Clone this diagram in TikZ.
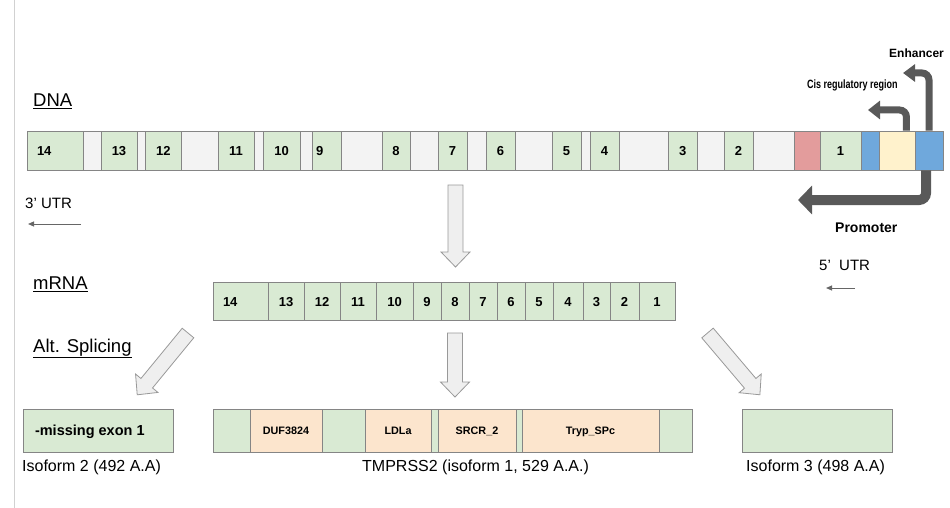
\documentclass[tikz,border=0pt]{standalone}
\usepackage{fontspec}
\setmainfont{Liberation Sans}
\usetikzlibrary{arrows.meta}
\definecolor{exonc}{HTML}{D9EAD3}
\definecolor{intronc}{HTML}{F3F3F3}
\definecolor{bordc}{HTML}{858585}
\definecolor{redc}{HTML}{E39C9C}
\definecolor{bluec}{HTML}{6FA8DC}
\definecolor{yelc}{HTML}{FFF2CC}
\definecolor{orc}{HTML}{FCE5CD}
\definecolor{arrfill}{HTML}{EFEFEF}
\definecolor{arrbord}{HTML}{999999}
\definecolor{darkc}{HTML}{595959}
\definecolor{thinc}{HTML}{666666}
\newcommand\exf{\fontsize{13}{15}\selectfont\bfseries}
\newcommand\domf{\fontsize{10.8}{12}\selectfont\bfseries}
\newcommand\headf{\fontsize{18.5}{21}\selectfont}
\newcommand\capf{\fontsize{15}{17}\selectfont}
\newcommand\capbf{\fontsize{16}{18}\selectfont}
\newcommand\regf{\fontsize{12}{14}\selectfont\bfseries}
\newcommand\seg[7]{\node[#6, minimum width={(#3)-(#2)}, minimum height={(#5)-(#4)}] (#1) at ({((#2)+(#3))/2},{((#4)+(#5))/2}) {#7};}
\newcommand\fatarrow[4]{\draw[bigarrow, shift={(#1,#2)}, rotate=#3] (0,-7.5) -- ({#4-15},-7.5) -- ({#4-15},-14.5) -- (#4,0) -- ({#4-15},14.5) -- ({#4-15},7.5) -- (0,7.5) -- cycle;}
\begin{document}
\begin{tikzpicture}[x=1pt,y=-1pt,
  box/.style={draw=bordc, line width=0.9pt, inner sep=0pt, font=\exf, text height=9.3pt, text depth=0pt},
  exon/.style={box, fill=exonc},
  intron/.style={box, fill=intronc},
  redbox/.style={box, fill=redc},
  bluebox/.style={box, fill=bluec},
  yelbox/.style={box, fill=yelc},
  dom/.style={box, fill=orc, font=\domf, text height=7.8pt, text depth=0pt},
  bigarrow/.style={draw=arrbord, fill=arrfill, line width=0.8pt, line join=miter},
  regarrow/.style={draw=darkc, rounded corners=7pt},
  thinarrow/.style={draw=thinc, line width=1pt, -{Triangle[length=6pt,width=5pt]}},
  lbl/.style={inner sep=0pt, anchor=base west}]
\useasboundingbox (0,0) rectangle (950,508);
\draw[color=black!18, line width=1.2pt] (14.5,0) -- (14.5,508);
% headings
\node[lbl, font=\headf] (hdna) at (33,107) {\underline{DNA}};
\node[lbl, font=\headf] (hmrna) at (33,289.5) {\underline{mRNA}};
\node[lbl, font=\headf] (halt) at (33,352) {\underline{Alt. Splicing}};
% DNA bar
\seg{d14}{27}{83}{131}{170}{exon}{\makebox[36pt][l]{14}}
\seg{i13}{83}{101}{131}{170}{intron}{}
\seg{d13}{101}{137}{131}{170}{exon}{13}
\seg{i12}{137}{145}{131}{170}{intron}{}
\seg{d12}{145}{181.5}{131}{170}{exon}{12}
\seg{i11}{181.5}{218}{131}{170}{intron}{}
\seg{d11}{218}{254}{131}{170}{exon}{11}
\seg{i10}{254}{263}{131}{170}{intron}{}
\seg{d10}{263}{300}{131}{170}{exon}{10}
\seg{i9}{300}{312}{131}{170}{intron}{}
\seg{d9}{312}{341}{131}{170}{exon}{\makebox[21pt][l]{9}}
\seg{i8}{341}{382}{131}{170}{intron}{}
\seg{d8}{382}{410}{131}{170}{exon}{8}
\seg{i7}{410}{438}{131}{170}{intron}{}
\seg{d7}{438}{467}{131}{170}{exon}{7}
\seg{i6}{467}{486}{131}{170}{intron}{}
\seg{d6}{486}{515}{131}{170}{exon}{6}
\seg{i5}{515}{552}{131}{170}{intron}{}
\seg{d5}{552}{581}{131}{170}{exon}{5}
\seg{i4}{581}{590}{131}{170}{intron}{}
\seg{d4}{590}{619}{131}{170}{exon}{4}
\seg{i3}{619}{668.5}{131}{170}{intron}{}
\seg{d3}{668.5}{697}{131}{170}{exon}{3}
\seg{i2}{697}{724}{131}{170}{intron}{}
\seg{d2}{724}{753}{131}{170}{exon}{2}
\seg{i1}{753}{794.5}{131}{170}{intron}{}
\seg{rd}{794.5}{820}{131}{170}{redbox}{}
\seg{d1}{820}{861}{131}{170}{exon}{1}
\seg{bl1}{861}{879}{131}{170}{bluebox}{}
\seg{yl}{879}{915}{131}{170}{yelbox}{}
\seg{bl2}{915}{943}{131}{170}{bluebox}{}
% regulatory arrows
\coordinate (cisS) at ([xshift=-9pt]yl.north east);
\coordinate (cisE) at (868,110);
\coordinate (enhE) at (903,73);
\coordinate (proE) at (798,200);
\draw[regarrow, line width=7pt, -{Triangle[length=12pt,width=18pt]}] (cisS) |- (cisE);
\draw[regarrow, line width=7pt, -{Triangle[length=12pt,width=17pt]}] (bl2.north) |- (enhE);
\draw[regarrow, line width=10pt, -{Triangle[length=14pt,width=28pt]}] ([xshift=-3pt]bl2.south) |- (proE);
\node[lbl, font=\regf] (tenh) at (889,58) {Enhancer};
\node[lbl, font=\regf] (tcis) at (807,89) {\scalebox{0.75}[1]{Cis regulatory region}};
\node[lbl, font=\regf] (tpro) at (835,232) {\fontsize{14}{16}\selectfont Promoter};
% UTR labels
\node[lbl, font=\capf] (u3) at (25,208) {3' UTR};
\coordinate (u3a) at (81,224);
\coordinate (u3b) at (28,224);
\draw[thinarrow] (u3a) -- (u3b);
\node[lbl, font=\capf] (u5) at (819,270.5) {5'\ \ UTR};
\coordinate (u5a) at (855,288);
\coordinate (u5b) at (826,288);
\draw[thinarrow] (u5a) -- (u5b);
% mRNA bar
\seg{m14}{213}{268}{282}{320.7}{exon}{\makebox[35pt][l]{14}}
\seg{m13}{268}{304}{282}{320.7}{exon}{13}
\seg{m12}{304}{340}{282}{320.7}{exon}{12}
\seg{m11}{340}{376}{282}{320.7}{exon}{11}
\seg{m10}{376}{413}{282}{320.7}{exon}{10}
\seg{m9}{413}{441}{282}{320.7}{exon}{9}
\seg{m8}{441}{469}{282}{320.7}{exon}{8}
\seg{m7}{469}{497}{282}{320.7}{exon}{7}
\seg{m6}{497}{525}{282}{320.7}{exon}{6}
\seg{m5}{525}{553}{282}{320.7}{exon}{5}
\seg{m4}{553}{583}{282}{320.7}{exon}{4}
\seg{m3}{583}{610}{282}{320.7}{exon}{3}
\seg{m2}{610}{639}{282}{320.7}{exon}{2}
\seg{m1}{639}{675}{282}{320.7}{exon}{1}
% big arrows
\fatarrow{455.5}{185}{-90}{82}
\fatarrow{455}{333}{-90}{64}
\fatarrow{188}{333}{-129.4}{80}
\fatarrow{707.5}{333}{-49.7}{81}
% isoforms
\seg{iso2}{23}{173}{409}{452}{exon}{\makebox[126pt][l]{\fontsize{14.5}{16}\selectfont -missing exon 1}}
\seg{tm}{213}{692}{409}{452}{exon}{}
\seg{duf}{250}{322}{409}{452}{dom}{DUF3824}
\seg{ldl}{365}{431}{409}{452}{dom}{LDLa}
\seg{srcr}{438}{516}{409}{452}{dom}{SRCR\_2}
\seg{tryp}{522}{659}{409}{452}{dom}{Tryp\_SPc}
\seg{iso3}{742}{892}{409}{452}{exon}{}
\node[lbl, font=\capbf] (c2) at (22,471) {Isoform 2 (492 A.A)};
\node[lbl, font=\capbf] (c1) at (362,471) {TMPRSS2 (isoform 1, 529 A.A.)};
\node[lbl, font=\capbf] (c3) at (746,471) {Isoform 3 (498 A.A)};
\end{tikzpicture}
\end{document}
